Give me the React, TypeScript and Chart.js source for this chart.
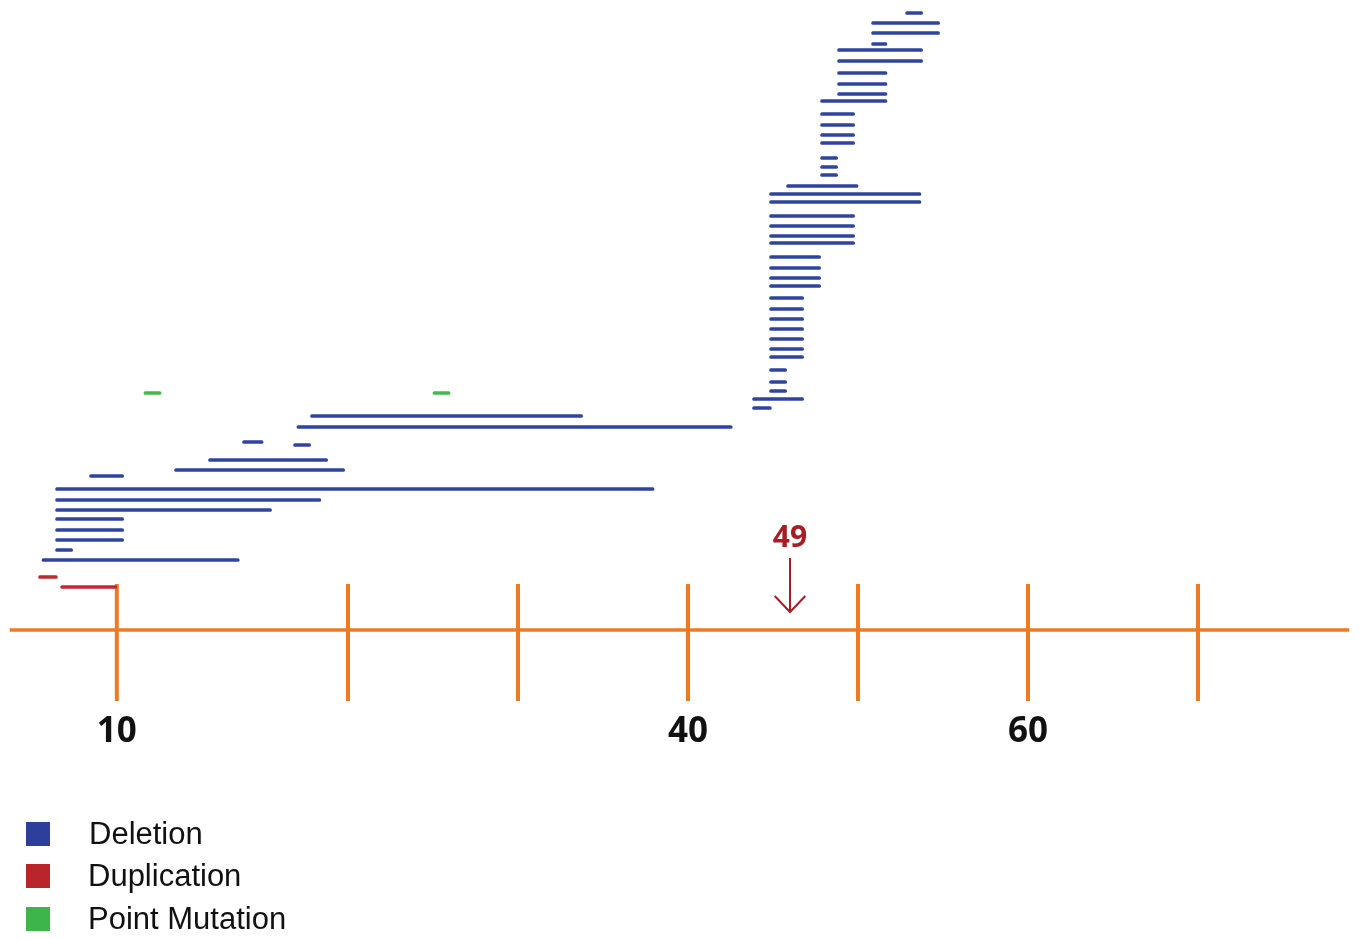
import { useEffect, useRef } from "react";
import { Chart, registerables } from "chart.js";

Chart.register(...registerables);

// x values are positions along the exon axis, lanes are row heights above the axis line
const deletionStart = [
  52.8, 50.8, 50.8, 50.8, 48.8, 48.8, 48.8, 48.8, 48.8, 47.8,
  47.8, 47.8, 47.8, 47.8, 47.8, 47.8, 47.8, 45.8, 44.8, 44.8,
  44.8, 44.8, 44.8, 44.8, 44.8, 44.8, 44.8, 44.8, 44.8, 44.8,
  44.8, 44.8, 44.8, 44.8, 44.8, 44.8, 44.8, 44.8, 43.8, 43.8,
  17.8, 17.0, 13.8, 16.8, 11.8, 9.8, 4.8, 2.8, 2.8, 2.8,
  2.8, 2.8, 2.8, 2.8, 2.0,
];
const deletionEnd = [
  53.8, 54.8, 54.8, 51.7, 53.8, 53.8, 51.7, 51.7, 51.7, 51.7,
  49.8, 49.8, 49.8, 49.8, 48.8, 48.8, 48.8, 50.0, 53.7, 53.7,
  49.8, 49.8, 49.8, 49.8, 47.8, 47.8, 47.8, 47.8, 46.8, 46.8,
  46.8, 46.8, 46.8, 46.8, 46.8, 45.8, 45.8, 45.8, 46.8, 44.9,
  33.8, 42.6, 15.0, 17.8, 18.8, 19.8, 6.8, 38.0, 18.4, 15.5,
  6.8, 6.8, 6.8, 3.8, 13.6,
];
const deletionLane = [
  61.7, 60.7, 59.7, 58.6, 58.0, 56.9, 55.7, 54.6, 53.6, 52.9,
  51.6, 50.5, 49.5, 48.7, 47.2, 46.3, 45.5, 44.4, 43.6, 42.8,
  41.4, 40.4, 39.4, 38.7, 37.3, 36.2, 35.2, 34.4, 33.2, 32.1,
  31.1, 30.1, 29.1, 28.1, 27.3, 26.0, 24.8, 23.9, 23.1, 22.2,
  21.4, 20.3, 18.8, 18.5, 17.0, 16.0, 15.4, 14.1, 13.0, 12.0,
  11.1, 10.0, 9.0, 8.0, 7.0,
];

const duplicationStart = [1.8, 3.1];
const duplicationEnd = [2.9, 6.4];
const duplicationLane = [5.3, 4.3];

const pointStart = [8.0, 25.0];
const pointEnd = [9.0, 26.0];
const pointLane = [23.7, 23.7];

const axisTickPositions = [6.4, 20, 30, 40, 50, 60, 70];
const axisTickLabels = ["10", "", "", "40", "", "60", ""];
const axisStart = 0.1;
const axisEnd = 78.9;
const tickTop = 4.6;
const tickBottom = -7.1;

const arrowPosition = 46.0;
const arrowLabel = "49";
const arrowTop = 7.2;
const arrowTip = 1.8;
const arrowHeadBase = 3.4;
const arrowHeadHalfWidth = 0.9;
const arrowLabelLane = 9.2;

const legendLabels = ["Deletion", "Duplication", "Point Mutation"];
const legendColors = ["#2b3f9b", "#b8262b", "#3db54a"];

const BLUE = "#2f449f";
const RED = "#be2a2e";
const GREEN = "#46b84a";
const ORANGE = "#ef7a22";
const DARK_RED = "#a81c23";

export default function App() {
  const ref = useRef<HTMLCanvasElement>(null);

  useEffect(() => {
    document.body.style.margin = "0";
    const canvas = ref.current;
    if (!canvas) return;

    const toBars = (s: number[], e: number[], l: number[]) =>
      s.map((v, i) => ({ x: [v, e[i]], y: l[i] }));

    const tickLineData: any[] = [];
    axisTickPositions.forEach((p) => {
      tickLineData.push({ x: p, y: tickBottom }, { x: p, y: tickTop }, { x: null, y: null });
    });

    const arrowData = [
      { x: arrowPosition, y: arrowTop },
      { x: arrowPosition, y: arrowTip },
      { x: null, y: null },
      { x: arrowPosition - arrowHeadHalfWidth, y: arrowHeadBase },
      { x: arrowPosition, y: arrowTip },
      { x: arrowPosition + arrowHeadHalfWidth, y: arrowHeadBase },
    ];

    const labelPlugin = {
      id: "arrowLabel",
      afterDatasetsDraw(chart: any) {
        const { ctx, scales } = chart;
        ctx.save();
        ctx.fillStyle = DARK_RED;
        ctx.font = 'bold 30px "Open Sans"';
        ctx.textAlign = "center";
        ctx.textBaseline = "middle";
        ctx.fillText(
          arrowLabel,
          scales.x.getPixelForValue(arrowPosition),
          scales.y.getPixelForValue(arrowLabelLane)
        );
        ctx.restore();
      },
    };

    const lineCommon = {
      type: "line" as const,
      pointRadius: 0,
      pointHoverRadius: 0,
      tension: 0,
      spanGaps: false,
      clip: false as any,
      fill: false,
    };

    const barCommon = {
      type: "bar" as const,
      indexAxis: "y" as const,
      barThickness: 3,
      grouped: false,
      borderWidth: 0,
      borderRadius: 1.5,
      borderSkipped: false as any,
    };

    const chart = new Chart(canvas, {
      type: "bar",
      data: {
        datasets: [
          { ...barCommon, label: "Deletion", data: toBars(deletionStart, deletionEnd, deletionLane) as any, backgroundColor: BLUE },
          { ...barCommon, label: "Duplication", data: toBars(duplicationStart, duplicationEnd, duplicationLane) as any, backgroundColor: RED },
          { ...barCommon, label: "Point Mutation", data: toBars(pointStart, pointEnd, pointLane) as any, backgroundColor: GREEN },
          { ...lineCommon, label: "axis", data: [{ x: axisStart, y: 0 }, { x: axisEnd, y: 0 }], borderColor: ORANGE, borderWidth: 3.5 } as any,
          { ...lineCommon, label: "ticks", data: tickLineData, borderColor: ORANGE, borderWidth: 4, borderCapStyle: "butt" } as any,
          { ...lineCommon, label: "arrow", data: arrowData, borderColor: DARK_RED, borderWidth: 2 } as any,
        ],
      },
      options: {
        animation: false,
        responsive: false,
        events: [],
        layout: { padding: { left: 8, right: 8, top: 0, bottom: 176 } },
        plugins: { legend: { display: false }, tooltip: { enabled: false } },
        scales: {
          x: {
            type: "linear",
            min: 0,
            max: 79,
            offset: false,
            grid: { display: false, drawTicks: false },
            border: { display: false },
            afterBuildTicks: (axis: any) => {
              axis.ticks = axisTickPositions.map((v) => ({ value: v }));
            },
            ticks: {
              autoSkip: false,
              padding: 10,
              maxRotation: 0,
              color: "#111111",
              font: { family: '"Open Sans"', size: 35, weight: "bold" },
              callback: (_v: any, i: number) => axisTickLabels[i],
            },
          },
          y: { type: "linear", min: tickBottom, max: 63, offset: false, display: false },
        },
      } as any,
      plugins: [labelPlugin],
    });

    return () => chart.destroy();
  }, []);

  return (
    <div style={{ position: "relative", width: 1359, height: 939, overflow: "hidden", background: "#fff" }}>
      <canvas ref={ref} width={1359} height={939} style={{ display: "block" }} />
      {legendLabels.map((label, i) => (
        <div
          key={label}
          style={{
            position: "absolute",
            left: 26,
            top: [816, 858, 901][i],
            height: 36,
            display: "flex",
            alignItems: "center",
            fontFamily: '"Liberation Sans", Arial, sans-serif',
            fontSize: 31,
            color: "#111",
          }}
        >
          <span style={{ display: "inline-block", width: 24, height: 24, background: legendColors[i] }} />
          <span style={{ marginLeft: 39 - (i === 0 ? 0 : 1) }}>{label}</span>
        </div>
      ))}
    </div>
  );
}
